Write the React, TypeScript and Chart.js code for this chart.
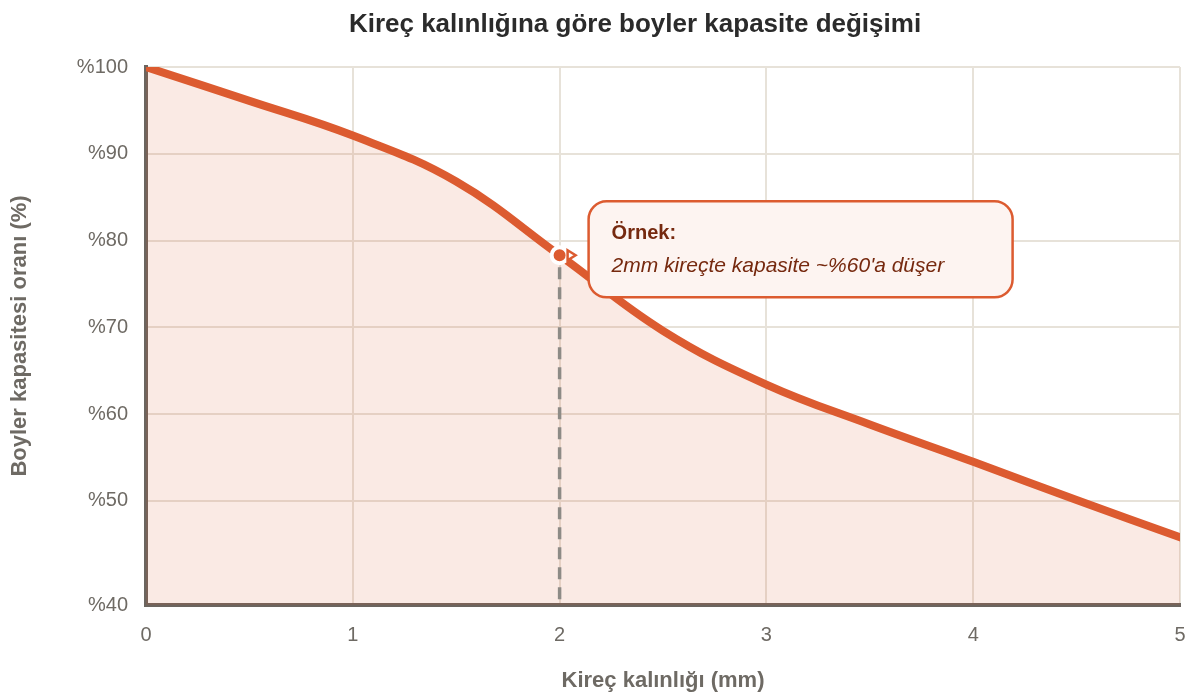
import React, { useEffect, useRef } from 'react';
import { Chart, registerables } from 'chart.js';

Chart.register(...registerables);

// ---- data ----
const thickness = [0, 0.5, 1, 1.5, 2, 2.5, 3, 3.5, 4, 4.5, 5];
const capacity = [100, 96.1, 92.1, 86.8, 78.3, 69.6, 63.4, 58.8, 54.5, 50.1, 45.8];
const yTickValues = [38, 50, 60, 70, 80, 90, 100];
const highlightIndex = 4;

const titleText = 'Kireç kalınlığına göre boyler kapasite değişimi';
const xTitle = 'Kireç kalınlığı (mm)';
const yTitle = 'Boyler kapasitesi oranı (%)';
const noteTitle = 'Örnek:';
const noteText = "2mm kireçte kapasite ~%60'a düşer";

const ORANGE = '#dc5b30';
const FONT = "'Liberation Sans', Arial, sans-serif";

function roundRect(ctx: CanvasRenderingContext2D, x: number, y: number, w: number, h: number, r: number) {
  ctx.beginPath();
  ctx.moveTo(x + r, y);
  ctx.lineTo(x + w - r, y);
  ctx.arcTo(x + w, y, x + w, y + r, r);
  ctx.lineTo(x + w, y + h - r);
  ctx.arcTo(x + w, y + h, x + w - r, y + h, r);
  ctx.lineTo(x + r, y + h);
  ctx.arcTo(x, y + h, x, y + h - r, r);
  ctx.lineTo(x, y + r);
  ctx.arcTo(x, y, x + r, y, r);
  ctx.closePath();
}

const notePlugin = {
  id: 'notePlugin',
  afterDatasetDraw(chart: any, args: any) {
    if (args.index !== 1) return;
    const { ctx, chartArea, scales } = chart;
    const px = scales.x.getPixelForValue(thickness[highlightIndex]);
    const py = scales.y.getPixelForValue(capacity[highlightIndex]);
    ctx.save();
    ctx.strokeStyle = '#8d8b86';
    ctx.lineWidth = 3.5;
    ctx.setLineDash([12, 8]);
    ctx.beginPath();
    ctx.moveTo(px, py + 12);
    ctx.lineTo(px, chartArea.bottom);
    ctx.stroke();
    ctx.restore();
  },
  afterDatasetsDraw(chart: any) {
    const { ctx, scales } = chart;
    const px = scales.x.getPixelForValue(thickness[highlightIndex]);
    const py = scales.y.getPixelForValue(capacity[highlightIndex]);
    ctx.save();
    // pointer
    ctx.beginPath();
    ctx.moveTo(px + 8, py - 5);
    ctx.lineTo(px + 16, py);
    ctx.lineTo(px + 8, py + 5);
    ctx.closePath();
    ctx.fillStyle = '#ffffff';
    ctx.fill();
    ctx.strokeStyle = ORANGE;
    ctx.lineWidth = 2.5;
    ctx.stroke();
    // box
    const bx = px + 29;
    const by = py - 54;
    roundRect(ctx, bx, by, 424, 96, 18);
    ctx.fillStyle = '#fdf4f1';
    ctx.fill();
    ctx.lineWidth = 2.5;
    ctx.strokeStyle = ORANGE;
    ctx.stroke();
    ctx.fillStyle = '#76290f';
    ctx.textAlign = 'left';
    ctx.textBaseline = 'alphabetic';
    ctx.font = `bold 20px ${FONT}`;
    ctx.fillText(noteTitle, bx + 23, py - 16);
    ctx.font = `italic 21px ${FONT}`;
    ctx.fillText(noteText, bx + 23, py + 17);
    ctx.restore();
  },
  afterDraw(chart: any) {
    const { ctx } = chart;
    ctx.save();
    ctx.font = `bold 26px ${FONT}`;
    ctx.fillStyle = '#2b2b2b';
    ctx.textAlign = 'center';
    ctx.textBaseline = 'alphabetic';
    ctx.fillText(titleText, 635, 32);
    ctx.restore();
  },
};

export default function App() {
  const canvasRef = useRef<HTMLCanvasElement | null>(null);

  useEffect(() => {
    if (!canvasRef.current) return;
    const points = thickness.map((t, i) => ({ x: t, y: capacity[i] }));
    const marker = [{ x: thickness[highlightIndex], y: capacity[highlightIndex] }];
    const chart = new Chart(canvasRef.current, {
      type: 'line',
      data: {
        datasets: [
          {
            data: marker,
            order: 0,
            showLine: false,
            pointRadius: 8,
            pointBackgroundColor: ORANGE,
            pointBorderColor: '#ffffff',
            pointBorderWidth: 4,
            fill: false,
          },
          {
            data: points,
            order: 1,
            borderColor: ORANGE,
            borderWidth: 8,
            borderCapStyle: 'round',
            borderJoinStyle: 'round',
            backgroundColor: 'rgba(219, 91, 48, 0.13)',
            fill: 'start',
            pointRadius: 0,
            tension: 0.4,
          },
        ],
      },
      options: {
        animation: false,
        responsive: true,
        maintainAspectRatio: false,
        layout: { padding: { top: 67, right: 8, left: 0, bottom: 0 } },
        plugins: {
          legend: { display: false },
          tooltip: { enabled: false },
          title: { display: false },
        },
        scales: {
          x: {
            type: 'linear',
            min: 0,
            max: 5,
            ticks: {
              stepSize: 1,
              padding: 18,
              color: '#6e6a64',
              font: { family: FONT, size: 20 },
            },
            grid: { color: '#e7e2d9', lineWidth: 2, drawTicks: false },
            border: { display: true, color: '#6b655f', width: 4 },
            title: {
              display: true,
              text: xTitle,
              color: '#6e6a64',
              font: { family: FONT, size: 22, weight: 'bold' },
              padding: { top: 0, bottom: 2 },
            },
            afterFit: (scale: any) => {
              scale.height = 91;
              scale.paddingLeft = 0;
              scale.paddingRight = 0;
            },
          },
          y: {
            type: 'linear',
            min: yTickValues[0],
            max: yTickValues[yTickValues.length - 1],
            afterBuildTicks: (scale: any) => {
              scale.ticks = yTickValues.map((v) => ({ value: v }));
            },
            ticks: {
              padding: 18,
              color: '#6e6a64',
              font: { family: FONT, size: 20 },
              callback: (v: any) => '%' + Math.round(Number(v) / 10) * 10,
            },
            grid: { color: '#e7e2d9', lineWidth: 2, drawTicks: false },
            border: { display: true, color: '#6b655f', width: 4 },
            title: {
              display: true,
              text: yTitle,
              color: '#6e6a64',
              font: { family: FONT, size: 22, weight: 'bold' },
              padding: { top: 7, bottom: 0 },
            },
            afterFit: (scale: any) => {
              scale.width = 146;
            },
          },
        },
      } as any,
      plugins: [notePlugin],
    });
    return () => chart.destroy();
  }, []);

  return (
    <div style={{ position: 'fixed', left: 0, top: 0, width: 1192, height: 696, background: '#ffffff' }}>
      <canvas ref={canvasRef} />
    </div>
  );
}
